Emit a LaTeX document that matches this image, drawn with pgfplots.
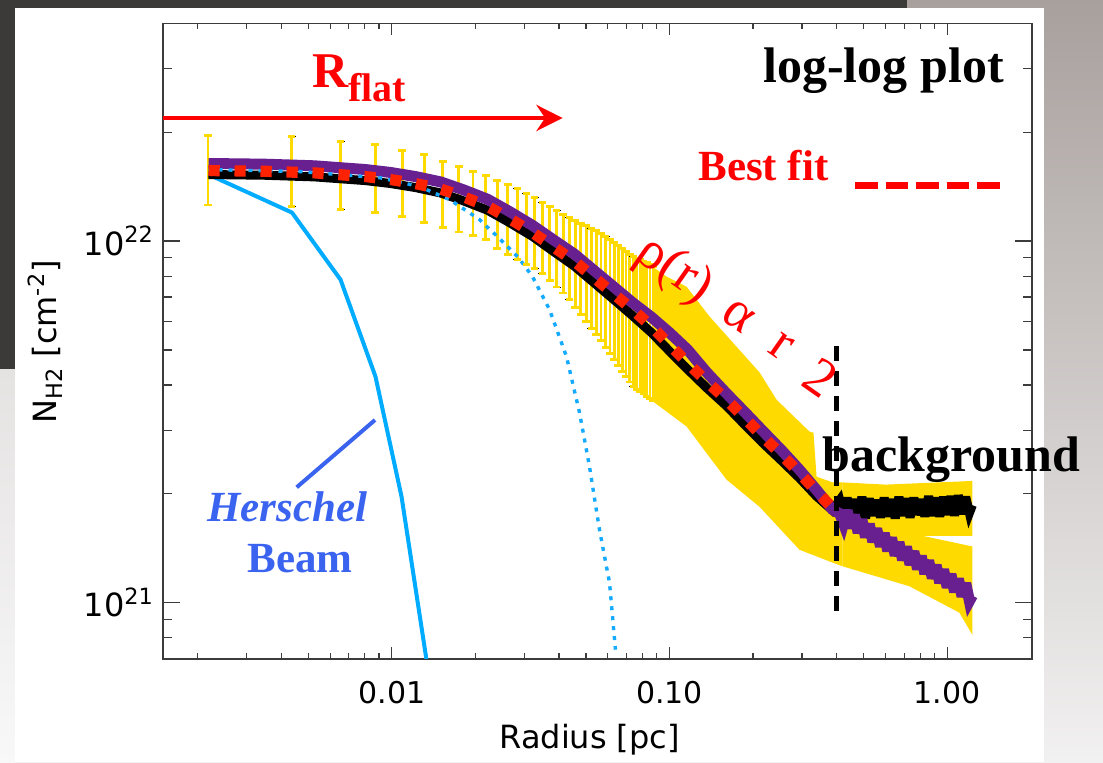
\documentclass[border=0pt]{standalone}
\usepackage{fontspec}
\setmainfont{DejaVu Sans}
\newfontfamily\tnr{Liberation Serif}
\usepackage{pgfplots}
\pgfplotsset{compat=1.18}
\usepackage{pgfplotstable}
\usetikzlibrary{arrows.meta}
\definecolor{ygold}{RGB}{255,218,0}
\definecolor{pviolet}{RGB}{104,32,145}
\definecolor{beamblue}{RGB}{0,172,255}
\definecolor{dotblue}{RGB}{20,170,255}
\definecolor{hblue}{RGB}{58,100,240}
\definecolor{fitred}{RGB}{255,34,0}
\definecolor{darkbg}{RGB}{60,57,57}
\definecolor{axgray}{RGB}{60,60,60}

% error bars of the profile (r, lower end, upper end)
\pgfplotstableread{
r lo hi
0.00218 1.259e22 1.962e22
0.00436 1.248e22 1.942e22
0.00654 1.222e22 1.888e22
0.00872 1.201e22 1.849e22
0.0109 1.171e22 1.783e22
0.01308 1.123e22 1.735e22
0.01526 1.092e22 1.663e22
0.01744 1.060e22 1.610e22
0.01962 1.036e22 1.560e22
0.0218 1.009e22 1.518e22
0.02398 9.535e21 1.473e22
0.02616 9.176e21 1.433e22
0.02834 8.895e21 1.398e22
0.03052 8.627e21 1.357e22
0.0327 8.388e21 1.317e22
0.03488 8.121e21 1.280e22
0.03706 7.776e21 1.246e22
0.03924 7.464e21 1.215e22
0.04142 7.184e21 1.186e22
0.0436 6.889e21 1.161e22
0.04578 6.560e21 1.139e22
0.04796 6.262e21 1.120e22
0.05014 5.988e21 1.102e22
0.05232 5.738e21 1.084e22
0.0545 5.511e21 1.068e22
0.05668 5.297e21 1.051e22
0.05886 5.081e21 1.029e22
0.06104 4.881e21 1.008e22
0.06322 4.701e21 9.886e21
0.0654 4.528e21 9.705e21
0.06758 4.365e21 9.528e21
0.06976 4.218e21 9.359e21
0.07194 4.077e21 9.200e21
0.07412 3.953e21 9.055e21
0.0763 3.890e21 8.968e21
0.07848 3.831e21 8.883e21
0.08066 3.774e21 8.805e21
0.08284 3.718e21 8.726e21
0.08502 3.663e21 8.610e21
0.0872 3.612e21 8.496e21
}\errtab

% observed profile (black)
\pgfplotstableread{
r N
0.002188 1.528e22
0.003478 1.521e22
0.005268 1.505e22
0.008042 1.470e22
0.009893 1.443e22
0.01217 1.406e22
0.01497 1.359e22
0.01812 1.292e22
0.02212 1.217e22
0.02653 1.125e22
0.03211 1.030e22
0.03791 9.40e21
0.04548 8.52e21
0.05369 7.65e21
0.06233 6.94e21
0.07356 6.22e21
0.08612 5.58e21
0.09998 4.96e21
0.1161 4.42e21
0.1359 3.93e21
0.1604 3.50e21
0.1862 3.11e21
0.2162 2.77e21
0.2531 2.47e21
0.2938 2.21e21
0.3382 1.97e21
0.3862 1.80e21
0.410 1.92e21
0.423 1.74e21
0.436 1.95e21
0.449 1.72e21
0.463 1.93e21
0.478 1.73e21
0.493 1.96e21
0.508 1.71e21
0.524 1.94e21
0.540 1.74e21
0.557 1.92e21
0.575 1.72e21
0.593 1.95e21
0.611 1.73e21
0.630 1.93e21
0.650 1.71e21
0.670 1.96e21
0.691 1.74e21
0.713 1.94e21
0.735 1.72e21
0.758 1.95e21
0.782 1.75e21
0.806 1.93e21
0.831 1.73e21
0.857 1.97e21
0.884 1.74e21
0.912 1.95e21
0.940 1.73e21
0.970 1.96e21
1.000 1.75e21
1.031 1.97e21
1.063 1.74e21
1.097 1.98e21
1.131 1.76e21
1.166 1.96e21
1.202 1.77e21
1.232 1.86e21
}\blacktab

% background-subtracted profile (purple)
\pgfplotstableread{
r N
0.002188 1.639e22
0.003478 1.632e22
0.005268 1.615e22
0.008042 1.577e22
0.009893 1.548e22
0.01217 1.508e22
0.01497 1.458e22
0.01812 1.386e22
0.02212 1.305e22
0.02653 1.207e22
0.03211 1.105e22
0.03791 1.012e22
0.04548 9.20e21
0.05369 8.27e21
0.06233 7.52e21
0.07356 6.76e21
0.08612 6.16e21
0.09998 5.58e21
0.1161 5.01e21
0.1359 4.34e21
0.1604 3.79e21
0.1862 3.37e21
0.2162 2.99e21
0.2531 2.64e21
0.2938 2.33e21
0.3382 2.05e21
0.3862 1.81e21
0.410 1.763e21
0.423 1.655e21
0.436 1.799e21
0.449 1.607e21
0.463 1.747e21
0.478 1.561e21
0.493 1.697e21
0.508 1.517e21
0.524 1.649e21
0.540 1.473e21
0.557 1.601e21
0.575 1.431e21
0.593 1.555e21
0.611 1.390e21
0.630 1.511e21
0.650 1.350e21
0.670 1.468e21
0.691 1.312e21
0.713 1.426e21
0.735 1.274e21
0.758 1.385e21
0.782 1.238e21
0.806 1.345e21
0.831 1.202e21
0.857 1.307e21
0.884 1.168e21
0.912 1.269e21
0.940 1.135e21
0.970 1.234e21
1.000 1.102e21
1.031 1.198e21
1.063 1.071e21
1.097 1.163e21
1.131 1.040e21
1.166 1.131e21
1.202 1.010e21
1.232 1.046e21
}\purpletab

% best fit
\pgfplotstableread{
r N
0.002188 1.567e22
0.003478 1.560e22
0.005268 1.544e22
0.008042 1.508e22
0.009893 1.480e22
0.01217 1.442e22
0.01497 1.394e22
0.01812 1.325e22
0.02212 1.248e22
0.02653 1.154e22
0.03211 1.056e22
0.03791 9.674e21
0.04548 8.791e21
0.05369 7.910e21
0.06233 7.190e21
0.07356 6.464e21
0.08612 5.811e21
0.09998 5.172e21
0.1161 4.603e21
0.1359 4.095e21
0.1604 3.643e21
0.1862 3.243e21
0.2162 2.884e21
0.2531 2.566e21
0.2938 2.285e21
0.3382 2.032e21
0.3862 1.828e21
0.400 1.79e21
}\fittab

% dotted blue profile
\pgfplotstableread{
r N
0.002188 1.577e22
0.004651 1.557e22
0.009031 1.498e22
0.01258 1.415e22
0.01614 1.303e22
0.02069 1.147e22
0.02442 1.016e22
0.02859 9.000e21
0.03211 7.977e21
0.03698 6.464e21
0.04257 4.791e21
0.04742 3.354e21
0.05151 2.377e21
0.05596 1.591e21
0.06081 1.136e21
0.06389 7.41e20
}\dottab

% Herschel beam
\pgfplotstableread{
r N
0.002188 1.528e22
0.004371 1.199e22
0.006538 7.824e21
0.008736 4.218e21
0.01084 1.965e21
0.01345 6.65e20
}\beamtab

\begin{document}
\begin{tikzpicture}
% slide background (pixel frame: x right, y down)
\begin{scope}[x=0.5pt,y=-0.5pt,shift={(-81.5pt,329.35pt)}]
  \shade[top color={rgb,255:red,168;green,160;blue,157}, bottom color={rgb,255:red,242;green,241;blue,241}] (0,0) rectangle (1103,762);
  \shade[top color={rgb,255:red,229;green,226;blue,226}, bottom color={rgb,255:red,248;green,248;blue,248}] (0,369) rectangle (15,762);
  \fill[darkbg] (0,0) rectangle (907,8);
  \fill[darkbg] (0,0) rectangle (15,369);
  \fill[white] (15,8) rectangle (1044,762);
\end{scope}

\begin{axis}[
  at={(0pt,0pt)}, anchor=south west,
  scale only axis, width=434.5pt, height=317.6pt,
  xmode=log, ymode=log,
  xmin=0.0015, xmax=2.02, ymin=7e20, ymax=4e22,
  xtick={0.01,0.1,1}, xticklabels={0.01,0.10,1.00},
  minor xtick={0.002,0.003,0.004,0.005,0.006,0.007,0.008,0.009,0.02,0.03,0.04,0.05,0.06,0.07,0.08,0.09,0.2,0.3,0.4,0.5,0.6,0.7,0.8,0.9},
  ytick={1e21,1e22}, yticklabels={10\textsuperscript{21},10\textsuperscript{22}},
  minor ytick={8e20,9e20,2e21,3e21,4e21,5e21,6e21,7e21,8e21,9e21,2e22,3e22},
  major tick length=8.5pt, minor tick length=4.3pt,
  xtick style={/pgfplots/major tick length=6pt,/pgfplots/minor tick length=3pt},
  tick style={axgray, line width=0.6pt},
  axis line style={axgray, line width=0.9pt},
  tick label style={font=\fontsize{15}{18}\selectfont},
  yticklabel style={font=\fontsize{16}{19}\selectfont},
  xticklabel style={yshift=-8pt},
  yticklabel style={xshift=-1pt},
  xlabel={Radius [pc]},
  ylabel={N\textsubscript{H2} [cm\textsuperscript{-2}]},
  label style={font=\fontsize{16}{19}\selectfont},
  xlabel style={at={(axis description cs:0.491,-0.128)}, anchor=center},
  ylabel style={at={(axis description cs:-0.1358,0.4986)}, anchor=center, rotate=0},
  every axis plot/.append style={line join=round},
]
% yellow error bars
\addplot[draw=none, forget plot,
  error bars/.cd, y dir=both, y explicit,
  error bar style={draw=ygold, line width=1.4pt}]
  table[x=r, y expr={(\thisrow{lo}+\thisrow{hi})/2}, y error expr={(\thisrow{hi}-\thisrow{lo})/2}] {\errtab};
% error bar caps
\addplot[ygold, only marks, mark=-, mark size=1.9pt, mark options={draw=ygold, line width=1.4pt}, forget plot]
  table[x=r, y=lo] {\errtab};
\addplot[ygold, only marks, mark=-, mark size=1.9pt, mark options={draw=ygold, line width=1.4pt}, forget plot]
  table[x=r, y=hi] {\errtab};
% merged error envelope
\addplot[fill=ygold, draw=none, forget plot] coordinates {
 (0.08679,8.50e21) (0.09754,7.98e21) (0.1152,7.48e21) (0.1395,6.18e21) (0.2111,4.33e21)
 (0.2430,3.64e21) (0.3195,2.97e21) (0.3300,2.95e21) (0.3385,2.23e21) (0.3867,2.15e21) (0.4202,2.15e21)
 (0.4202,1.26e21) (0.3867,1.29e21) (0.2938,1.40e21) (0.2111,1.84e21) (0.1603,2.19e21)
 (0.1152,3.07e21) (0.08679,3.61e21)} -- cycle;
\addplot[fill=ygold, draw=none, forget plot] coordinates {
 (0.4202,2.15e21) (0.60,2.12e21) (1.231,2.17e21) (1.231,1.53e21) (0.4202,1.53e21)} -- cycle;
\addplot[fill=ygold, draw=none, forget plot] coordinates {
 (0.4202,2.0e21) (0.5705,1.75e21) (0.8150,1.53e21) (1.231,1.43e21)
 (1.231,8.15e20) (1.106,9.38e20) (0.7303,1.11e21) (0.4202,1.26e21)} -- cycle;
% beam
\addplot[beamblue, line width=2pt] table[x=r,y=N] {\beamtab};
% profiles
\addplot[black, line width=4.5pt, line join=miter, miter limit=4] table[x=r,y=N] {\blacktab};
\addplot[pviolet, line width=5.5pt, line join=miter, miter limit=4] table[x=r,y=N] {\purpletab};
\addplot[dotblue, line width=1.7pt, dash pattern=on 2pt off 3pt] table[x=r,y=N] {\dottab};
\addplot[fitred, line width=5.6pt, dash pattern=on 5.6pt off 7.4pt] table[x=r,y=N] {\fittab};
% background limit
\addplot[black, line width=2.5pt, dash pattern=on 7.5pt off 5pt] coordinates {(0.40,5.12e21) (0.40,8.97e20)};
% R_flat arrow
\draw[red, line width=2pt, -{Stealth[length=13pt,width=13pt]}] (axis cs:0.0015,2.19e22) -- (axis cs:0.0412,2.19e22);
\end{axis}

% annotations (pixel frame)
\begin{scope}[x=0.5pt,y=-0.5pt,shift={(-81.5pt,329.35pt)}]
  \node[anchor=base west, inner sep=0pt, font=\tnr\bfseries\fontsize{25}{30}\selectfont] at (763,82) {log-log plot};
  \node[anchor=base west, inner sep=0pt, text=red, font=\tnr\bfseries\fontsize{21.5}{26}\selectfont] at (698,180) {Best fit};
  \draw[red, line width=3.5pt, dash pattern=on 11.25pt off 4pt] (855,185.7) -- (1001,185.7);
  \node[anchor=base west, inner sep=0pt, text=red, font=\tnr\bfseries\fontsize{25}{30}\selectfont] at (312,88) {R\raisebox{-6.8pt}{\fontsize{20}{24}\selectfont flat}};
  \node[anchor=base west, inner sep=0pt, font=\tnr\bfseries\fontsize{25}{30}\selectfont] at (822,471.7) {background};
  \node[anchor=base west, inner sep=0pt, text=hblue, font=\tnr\bfseries\itshape\fontsize{21.5}{26}\selectfont] at (207,521.7) {Herschel};
  \node[anchor=base west, inner sep=0pt, text=hblue, font=\tnr\bfseries\fontsize{21.5}{26}\selectfont] at (247,572.7) {Beam};
  \draw[hblue, line width=2pt] (296.7,487.3) -- (375,420);
  \node[rotate=-35, inner sep=0pt, text=red, font=\tnr\fontsize{27}{32}\selectfont] at (737,315) {ρ(r)\hspace{0.45em}α\hspace{0.55em}r\hspace{0.5em}\raisebox{-0.15em}{2}};
  \pgfresetboundingbox
  \path[use as bounding box] (0,0) rectangle (1103,762);
\end{scope}
\end{tikzpicture}
\end{document}
